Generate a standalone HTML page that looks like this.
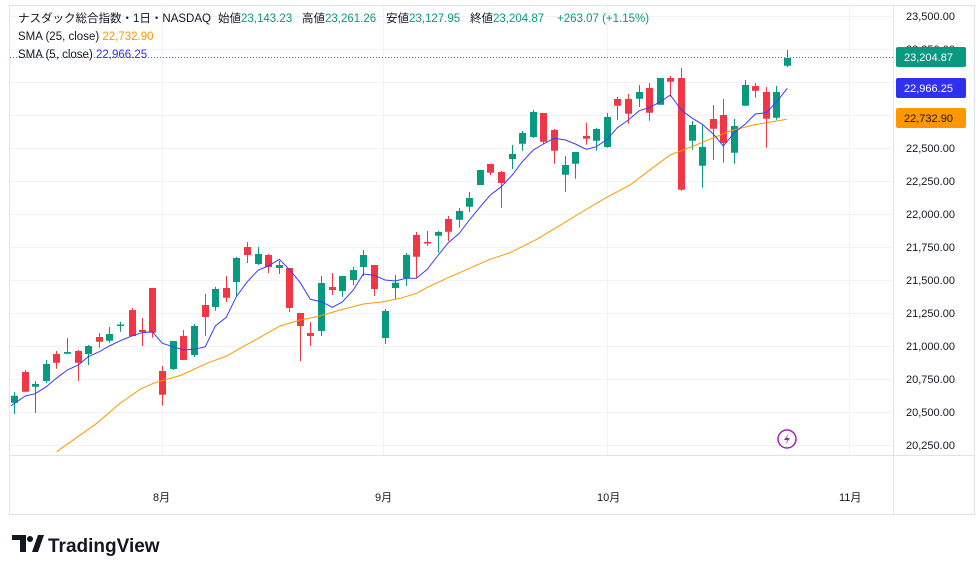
<!DOCTYPE html>
<html><head><meta charset="utf-8"><style>
html,body{margin:0;padding:0;background:#fff;}
body{width:980px;height:574px;overflow:hidden;font-family:"Liberation Sans","Noto Sans CJK JP",sans-serif;}
</style></head><body>
<svg width="980" height="574" viewBox="0 0 980 574" xmlns="http://www.w3.org/2000/svg" font-family="Liberation Sans, Noto Sans CJK JP, sans-serif">
<rect x="0" y="0" width="980" height="574" fill="#fff"/>
<rect x="9.5" y="5.5" width="965" height="509" fill="none" stroke="#e0e3eb"/>
<line x1="893.5" y1="5" x2="893.5" y2="514" stroke="#e0e3eb"/>
<line x1="9" y1="455.5" x2="975" y2="455.5" stroke="#e0e3eb"/>
<g stroke="#f0f2f5" stroke-width="1">
<line x1="10" x2="893" y1="16.5" y2="16.5"/><line x1="10" x2="893" y1="49.5" y2="49.5"/><line x1="10" x2="893" y1="82.5" y2="82.5"/><line x1="10" x2="893" y1="115.5" y2="115.5"/><line x1="10" x2="893" y1="148.5" y2="148.5"/><line x1="10" x2="893" y1="181.5" y2="181.5"/><line x1="10" x2="893" y1="214.5" y2="214.5"/><line x1="10" x2="893" y1="247.5" y2="247.5"/><line x1="10" x2="893" y1="280.5" y2="280.5"/><line x1="10" x2="893" y1="313.5" y2="313.5"/><line x1="10" x2="893" y1="346.5" y2="346.5"/><line x1="10" x2="893" y1="379.5" y2="379.5"/><line x1="10" x2="893" y1="412.5" y2="412.5"/><line x1="10" x2="893" y1="445.5" y2="445.5"/>
<line x1="162.5" x2="162.5" y1="6" y2="455"/><line x1="383.5" x2="383.5" y1="6" y2="455"/><line x1="607.5" x2="607.5" y1="6" y2="455"/><line x1="849.5" x2="849.5" y1="6" y2="455"/>
</g>
<line x1="10" y1="57.5" x2="893" y2="57.5" stroke="#089981" stroke-dasharray="1,2"/>
<path fill="none" stroke="#089981" d="M14.5 392V414M35.5 381V413M46.5 360V383M67.5 338V354M88.5 345V365M109.5 327V342.7M120.5 321.7V331.7M173.5 341V370M194.5 324V357M215.5 286.7V310.7M236.5 257V296M258.5 247V265M279.5 261V274M321.5 276V336M342.5 276V297M353.5 267V285M363.5 250V276M385.5 309V344M395.5 275V299M406.5 253V286M438.5 231V252.7M459.5 208V227.7M469.5 192V212M480.5 170V185M512.5 145V169M522.5 131V150.7M533.5 110V138M565.5 156V191.7M575.5 152V178.7M596.5 128V150.7M607.5 113V147.7M639.5 85V107M660.5 78V104.7M692.5 121V149.7M702.5 125V187.7M734.5 119V163.7M745.5 80V105.7M776.5 86V119.7M787.5 50V67"/>
<path fill="#089981" d="M11 395.7h7V402.7h-7zM32 384h7V386.7h-7zM43 364h7V381h-7zM64 352h7V353.7h-7zM85 346h7V354h-7zM106 334h7V340.7h-7zM117 324.5h7V326h-7zM170 341h7V369h-7zM191 326h7V355h-7zM212 289h7V307h-7zM233 258h7V282h-7zM255 254h7V264h-7zM276 265h7V268h-7zM318 283h7V331h-7zM339 276h7V291h-7zM350 270h7V280h-7zM360 255h7V267h-7zM382 311h7V338h-7zM392 282.7h7V288h-7zM403 255h7V278h-7zM435 232h7V235.7h-7zM456 211h7V219.7h-7zM466 198h7V206.7h-7zM477 170h7V185h-7zM509 154h7V159h-7zM519 133h7V143.7h-7zM530 112h7V137h-7zM562 165h7V174.7h-7zM572 152h7V163.7h-7zM593 129h7V140.7h-7zM604 117h7V147h-7zM636 92h7V98.7h-7zM657 78h7V104.7h-7zM689 125h7V140.7h-7zM699 147h7V165.7h-7zM731 126h7V152.7h-7zM742 85h7V105.7h-7zM773 92h7V117.7h-7zM784 58h7V65.7h-7z"/>
<path fill="none" stroke="#f23645" d="M25.5 370V392M56.5 351V368.7M78.5 350V380.7M99.5 333V347.7M132.5 308V336M142.5 318V346M152.5 288V337.7M162.5 366V405.7M183.5 330V360M205.5 294V336M226.5 276V302M247.5 242V263M268.5 254V273M289.5 268V312M300.5 313V361M310.5 322V346M332.5 273V295M374.5 265V296M416.5 232V278M427.5 231V245.7M448.5 216V241M490.5 164V175M501.5 171V207.7M543.5 113V143.7M554.5 129V163.7M586.5 122.7V144.7M617.5 97V120M628.5 94V123.7M649.5 83V120.7M670.5 76V96.7M681.5 68V190.7M713.5 105V159.7M723.5 99V162.7M755.5 83V97.7M766.5 87V147.7"/>
<path fill="#f23645" d="M22 372h7V391.7h-7zM53 354h7V362.7h-7zM75 351h7V362.7h-7zM96 337h7V341.7h-7zM129 310h7V336h-7zM139 330h7V332h-7zM149 288h7V332.7h-7zM159 371h7V394.7h-7zM180 336h7V360h-7zM202 305h7V317h-7zM223 288h7V297.7h-7zM244 247h7V255h-7zM265 255h7V267h-7zM286 268h7V308h-7zM297 313h7V326h-7zM307 333h7V336h-7zM329 287h7V290h-7zM371 265h7V289h-7zM413 235h7V256.7h-7zM424 242h7V243.5h-7zM445 219h7V231.7h-7zM487 164h7V172.7h-7zM498 172h7V183h-7zM540 113h7V141.7h-7zM551 130h7V150.7h-7zM583 136h7V138.7h-7zM614 99h7V105.7h-7zM625 99h7V113.7h-7zM646 88h7V112.7h-7zM667 78h7V81.7h-7zM678 78h7V189.7h-7zM710 119h7V128.7h-7zM720 115h7V143h-7zM752 86h7V90.7h-7zM763 92h7V118.7h-7z"/>
<polyline fill="none" stroke="#ff9800" stroke-width="1" points="56.7,451.7 96.7,423.3 120,403.3 140,389.3 153.3,383.3 181.7,375 206.7,363.3 226.7,356 240,348.3 260,337.3 280,326 300,320 320,316 340,310 363.3,304 383.3,301.7 400,298.3 416.7,293.3 426.7,287.7 446.7,278.3 490,259.3 510,252.7 536.7,239.3 563.3,223.3 576.7,215 606.7,197.3 630,185 653.3,167.3 670,155 683.3,150 710,139.3 730,131 753.3,125 786.7,119.3"/>
<polyline fill="none" stroke="#3a3aff" stroke-width="1" points="11,405.7 25.3,396 35.3,393.7 46.3,386.7 56.3,378.3 67.3,370 78.3,365 88.3,356.7 99.3,351.7 109.3,346 120.3,340.7 131.7,336 141.7,332.7 152.3,331.7 162.3,343.3 173.3,346.7 183.3,350 194.3,349.3 205.3,346.7 215.3,326 226.3,317.3 236.3,296.7 247.3,281.7 258.3,270 268.3,266 279.3,259.3 289.3,269.3 300.3,282.7 310.3,299.3 321.3,301.7 332.3,307.3 342.3,302 353.3,290 363.3,274 374.3,275.3 385,280 395.3,281 406.3,278.3 416.3,278.3 427.3,269.3 438.3,255 448.3,242.7 459.3,233.3 469.3,220 480.3,206.7 490.3,195 501.3,186.7 512.3,175 522.3,161.7 533.3,150 543.3,144 554.3,138.3 565.3,140 575.3,144 586.3,149.3 596.3,146.7 607.3,139.3 617.3,127.7 628.3,120 639.3,110.7 649.3,107.7 660.3,101.7 670.3,95 681.3,110 692.3,118.3 702.3,124.3 713.3,134 723.3,146 734.3,132.7 745.3,124 755.3,114 766.3,112.7 776.3,102.3 787.3,88.3"/>
<g font-size="11" fill="#131722">
<text x="906" y="20">23,500.00</text><text x="906" y="53">23,250.00</text><text x="906" y="86">23,000.00</text><text x="906" y="152">22,500.00</text><text x="906" y="185">22,250.00</text><text x="906" y="218">22,000.00</text><text x="906" y="251">21,750.00</text><text x="906" y="284">21,500.00</text><text x="906" y="317">21,250.00</text><text x="906" y="350">21,000.00</text><text x="906" y="383">20,750.00</text><text x="906" y="416">20,500.00</text><text x="906" y="449">20,250.00</text>
</g>
<rect x="896" y="47" width="70" height="20" rx="2" fill="#089981"/><text x="904" y="61" font-size="11" fill="#fff">23,204.87</text>
<rect x="896" y="78" width="70" height="20" rx="2" fill="#3030f0"/><text x="904" y="92" font-size="11" fill="#fff">22,966.25</text>
<rect x="896" y="108" width="70" height="20" rx="2" fill="#ff9800"/><text x="904" y="122" font-size="11" fill="#131722">22,732.90</text>
<g font-size="11" fill="#131722"><text x="153" y="501">8月</text><text x="375" y="501">9月</text><text x="597" y="501">10月</text><text x="839" y="501">11月</text></g>
<g font-size="11.5" fill="#131722">
<text x="18" y="22">ナスダック総合指数・1日・NASDAQ</text>
<text x="218" y="22">始値<tspan fill="#089981">23,143.23</tspan></text>
<text x="302" y="22">高値<tspan fill="#089981">23,261.26</tspan></text>
<text x="386" y="22">安値<tspan fill="#089981">23,127.95</tspan></text>
<text x="470" y="22">終値<tspan fill="#089981">23,204.87</tspan></text>
<text x="557" y="22" fill="#089981">+263.07 (+1.15%)</text>
<text x="18" y="40">SMA (25, close)  <tspan fill="#ff9800">22,732.90</tspan></text>
<text x="18" y="58">SMA (5, close)  <tspan fill="#3030f0">22,966.25</tspan></text>
</g>
<circle cx="787" cy="439" r="9" fill="#fff" stroke="#9c27b0" stroke-width="1.5"/>
<path d="M789 433 L784 440 L787.5 440 L785 445 L790 438 L786.5 438 Z" fill="#9c27b0"/>
<g transform="translate(12,535)"><path d="M0 0 H14 V17 H8 V5 H0 Z" fill="#131722"/><circle cx="18" cy="4" r="3" fill="#131722"/><path d="M20 17 L26 0 H32 L26 17 Z" fill="#131722"/></g>
<text x="48" y="552" font-size="19" font-weight="bold" fill="#131722">TradingView</text>
</svg>
</body></html>
